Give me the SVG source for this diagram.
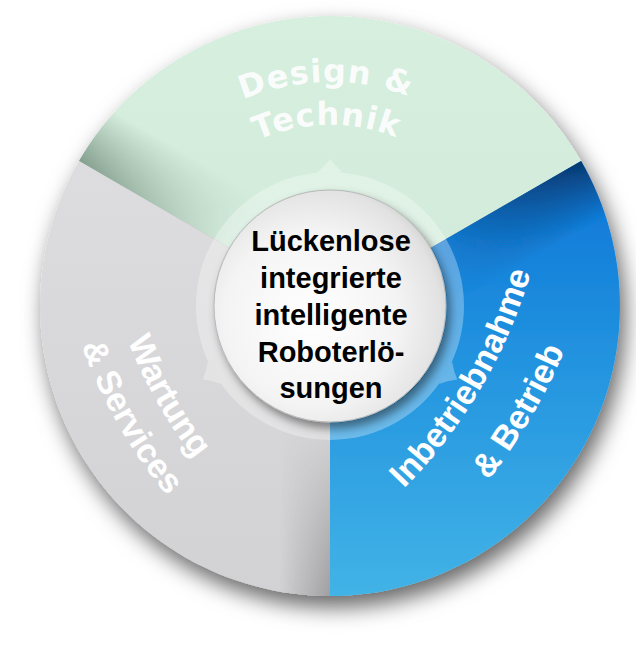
<svg xmlns="http://www.w3.org/2000/svg" width="636" height="646" viewBox="0 0 636 646">
  <defs>
    <style>
      .seg-label { font-family: "Liberation Sans", Arial, sans-serif; font-weight: bold; font-size: 34px; fill: #ffffff; }
      .top-label { font-family: "DejaVu Sans", Verdana, sans-serif; font-weight: bold; font-size: 32px; fill: #ffffff; fill-opacity: 0.9; letter-spacing: 1px; }
      .center-text { font-family: "Liberation Sans", Arial, sans-serif; font-weight: bold; font-size: 29px; fill: #000000; text-anchor: middle; }
    </style>
    <filter id="outerShadow" x="-20%" y="-20%" width="140%" height="140%">
      <feDropShadow dx="5" dy="11" stdDeviation="11" flood-color="#000" flood-opacity="0.6"/>
    </filter>
    <filter id="hubShadow" x="-30%" y="-30%" width="160%" height="160%">
      <feDropShadow dx="4" dy="6" stdDeviation="5" flood-color="#000" flood-opacity="0.45"/>
    </filter>
    <linearGradient id="gGreen" x1="0" y1="16" x2="0" y2="306" gradientUnits="userSpaceOnUse">
      <stop offset="0" stop-color="#d6efde"/>
      <stop offset="1" stop-color="#d2eadb"/>
    </linearGradient>
    <linearGradient id="gBlue" x1="0" y1="160" x2="0" y2="596" gradientUnits="userSpaceOnUse">
      <stop offset="0" stop-color="#0a74d6"/>
      <stop offset="0.5" stop-color="#2596e0"/>
      <stop offset="1" stop-color="#42b3e6"/>
    </linearGradient>
    <linearGradient id="gGray" x1="0" y1="160" x2="0" y2="596" gradientUnits="userSpaceOnUse">
      <stop offset="0" stop-color="#dddddf"/>
      <stop offset="1" stop-color="#d2d2d4"/>
    </linearGradient>
    <linearGradient id="shGreen" x1="150" y1="202" x2="180" y2="150" gradientUnits="userSpaceOnUse">
      <stop offset="0" stop-color="#4f6a5a" stop-opacity="0.6"/>
      <stop offset="1" stop-color="#4f6a5a" stop-opacity="0"/>
    </linearGradient>
    <linearGradient id="shBlue" x1="510" y1="202" x2="540" y2="254" gradientUnits="userSpaceOnUse">
      <stop offset="0" stop-color="#04254d" stop-opacity="0.75"/>
      <stop offset="1" stop-color="#04254d" stop-opacity="0"/>
    </linearGradient>
    <linearGradient id="shGray" x1="330" y1="0" x2="280" y2="0" gradientUnits="userSpaceOnUse">
      <stop offset="0" stop-color="#6e6e70" stop-opacity="0.5"/>
      <stop offset="1" stop-color="#6e6e70" stop-opacity="0"/>
    </linearGradient>
    <radialGradient id="fadeIn" cx="330" cy="306" r="290" gradientUnits="userSpaceOnUse">
      <stop offset="0.4" stop-color="#000"/>
      <stop offset="1" stop-color="#fff"/>
    </radialGradient>
    <mask id="rimMask" maskUnits="userSpaceOnUse" x="0" y="0" width="636" height="646">
      <circle cx="330" cy="306" r="292" fill="url(#fadeIn)"/>
    </mask>
    <radialGradient id="gHub" cx="0.42" cy="0.55" r="0.62">
      <stop offset="0" stop-color="#ffffff"/>
      <stop offset="0.6" stop-color="#f4f4f4"/>
      <stop offset="0.9" stop-color="#e2e2e2"/>
      <stop offset="1" stop-color="#cfcfcf"/>
    </radialGradient>
    <path id="arcDesign" d="M136,194 A224,224 0 0 1 524,194"/>
    <path id="arcTechnik" d="M173.2,215.5 A181,181 0 0 1 486.8,215.5"/>
    <path id="arcInbetrieb1" d="M330.1,550.6 A511,511 0 0 0 548.7,178.1"/>
    <path id="arcInbetrieb2" d="M363.1,598.3 A569,569 0 0 0 606.5,183.5"/>
    <path id="arcWartung1" d="M98.5,211.9 A460,460 0 0 0 290.5,549.9"/>
    <path id="arcWartung2" d="M53.6,215.5 A505,505 0 0 0 264.5,586.6"/>
  </defs>

  <rect x="0" y="0" width="636" height="646" fill="#ffffff"/>

  <g id="wheel" filter="url(#outerShadow)">
    <g id="segment-design">
      <path d="M330,306 L78.9,161 A290,290 0 0 1 581.1,161 Z" fill="url(#gGreen)"/>
      <path d="M330,306 L78.9,161 A290,290 0 0 1 581.1,161 Z" fill="url(#shGreen)" mask="url(#rimMask)"/>
    </g>
    <g id="segment-inbetrieb">
      <path d="M330,306 L581.1,161 A290,290 0 0 1 330,596 Z" fill="url(#gBlue)"/>
      <path d="M330,306 L581.1,161 A290,290 0 0 1 330,596 Z" fill="url(#shBlue)" mask="url(#rimMask)"/>
    </g>
    <g id="segment-wartung">
      <path d="M330,306 L330,596 A290,290 0 0 1 78.9,161 Z" fill="url(#gGray)"/>
      <path d="M330,306 L330,596 A290,290 0 0 1 78.9,161 Z" fill="url(#shGray)" mask="url(#rimMask)"/>
    </g>
  </g>

  <g id="labels">
    <g id="label-design" transform="rotate(-1 330 306)">
      <text class="top-label" text-anchor="middle"><textPath href="#arcDesign" startOffset="50%">Design &amp;</textPath></text>
      <text class="top-label" text-anchor="middle"><textPath href="#arcTechnik" startOffset="50%">Technik</textPath></text>
    </g>
    <g id="label-inbetrieb">
      <text class="seg-label" text-anchor="middle"><textPath href="#arcInbetrieb1" startOffset="50%">Inbetriebnahme</textPath></text>
      <text class="seg-label" text-anchor="middle"><textPath href="#arcInbetrieb2" startOffset="50%">&amp; Betrieb</textPath></text>
    </g>
    <g id="label-wartung">
      <text class="seg-label" text-anchor="middle"><textPath href="#arcWartung1" startOffset="50%">Wartung</textPath></text>
      <text class="seg-label" text-anchor="middle"><textPath href="#arcWartung2" startOffset="50%">&amp; Services</textPath></text>
    </g>
  </g>

  <g id="hub">
    <g id="hub-ring" fill="#ffffff" fill-opacity="0.3">
      <path d="M330,172 A134,134 0 1 1 329.99,172 Z M330,189 A117,117 0 1 0 330.01,189 Z" fill-rule="evenodd"/>
      <path d="M317,172.6 Q325,166 330,159 Q335,166 343,172.6 A134,134 0 0 0 317,172.6 Z"/>
      <path d="M317,172.6 Q325,166 330,159 Q335,166 343,172.6 A134,134 0 0 0 317,172.6 Z" transform="rotate(120 330 306)"/>
      <path d="M317,172.6 Q325,166 330,159 Q335,166 343,172.6 A134,134 0 0 0 317,172.6 Z" transform="rotate(240 330 306)"/>
    </g>
    <circle id="hub-disc" cx="330" cy="306" r="116" fill="url(#gHub)" stroke="#b9b9b9" stroke-width="1" filter="url(#hubShadow)"/>
    <text class="center-text" x="331" y="251">Lückenlose</text>
    <text class="center-text" x="331" y="288">integrierte</text>
    <text class="center-text" x="331" y="325">intelligente</text>
    <text class="center-text" x="331" y="361.5">Roboterlö-</text>
    <text class="center-text" x="331" y="398">sungen</text>
  </g>
</svg>
